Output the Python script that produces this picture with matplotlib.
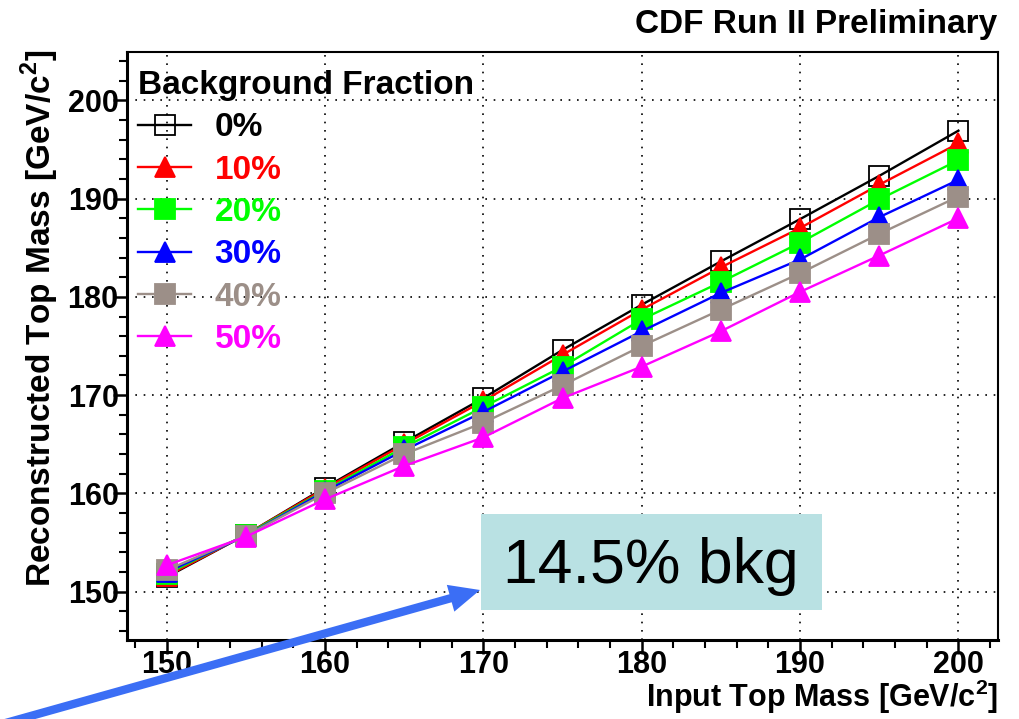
"""
Reconstructed vs input top mass for several background fractions
"""

import matplotlib
matplotlib.use("Agg")
import matplotlib.pyplot as plt
from matplotlib.patches import Rectangle
from matplotlib.ticker import MultipleLocator

plt.rcParams['font.family'] = ['Liberation Sans', 'DejaVu Sans']
plt.rcParams['mathtext.fontset'] = 'custom'
plt.rcParams['mathtext.bf'] = 'Liberation Sans:bold'
plt.rcParams['mathtext.rm'] = 'Liberation Sans:bold'

input_mass = [150, 155, 160, 165, 170, 175, 180, 185, 190, 195, 200]
labels = ['0%', '10%', '20%', '30%', '40%', '50%']
reco_0 = [151.5, 155.8, 160.6, 165.2, 169.7, 174.6, 179.2, 183.6, 187.9, 192.3, 196.9]
reco_10 = [151.6, 155.8, 160.5, 165.0, 169.4, 174.1, 178.7, 183.0, 187.0, 191.4, 195.6]
reco_20 = [151.8, 155.8, 160.3, 164.7, 168.8, 172.9, 177.7, 181.5, 185.5, 189.9, 193.9]
reco_30 = [152.0, 155.7, 160.2, 164.4, 168.3, 172.4, 176.5, 180.4, 183.8, 188.1, 191.9]
reco_40 = [152.2, 155.7, 160.0, 164.0, 167.2, 171.0, 175.0, 178.7, 182.4, 186.4, 190.2]
reco_50 = [152.7, 155.6, 159.4, 162.8, 165.7, 169.7, 172.9, 176.5, 180.5, 184.2, 188.0]
series = [reco_0, reco_10, reco_20, reco_30, reco_40, reco_50]

colors = ['black', '#ff0000', '#00ff00', '#0000ff', '#9c8f88', '#ff00ff']
markers = ['s', '^', 's', '^', 's', '^']

W, H = 1019, 719
fig = plt.figure(figsize=(W / 100, H / 100), dpi=100)
ax = fig.add_axes([127 / W, 1 - 640 / H, (998 - 127) / W, (640 - 52) / H])

for i in range(len(series)):
    face = 'none' if i == 0 else colors[i]
    ax.plot(input_mass, series[i], color=colors[i], lw=1.7, marker=markers[i],
            ms=14, mfc=face, mec=colors[i], mew=1.3, label=labels[i], zorder=3 + i)

ax.set_xlim(147.5, 202.5)
ax.set_ylim(145.1, 204.9)
ax.xaxis.set_major_locator(MultipleLocator(10))
ax.xaxis.set_minor_locator(MultipleLocator(2))
ax.yaxis.set_major_locator(MultipleLocator(10))
ax.yaxis.set_minor_locator(MultipleLocator(2))
ax.grid(True, which='major', color='black', linestyle=(0, (1, 4)), lw=1.2)
for s in ax.spines.values():
    s.set_linewidth(1.5)
ax.spines['left'].set_linewidth(2.2)
ax.spines['bottom'].set_linewidth(2.2)
ax.tick_params(which='major', length=10, width=1.8, labelsize=22, direction='out')
ax.tick_params(which='minor', length=6, width=1.5, direction='out')
ax.tick_params(axis='y', which='major', pad=-4)
ax.tick_params(axis='x', which='major', pad=-3)
for lab in ax.get_xticklabels() + ax.get_yticklabels():
    lab.set_fontweight('bold')

leg = ax.legend(loc='upper left', bbox_to_anchor=(138 / W, 1 - 70 / H),
                bbox_transform=fig.transFigure, frameon=False,
                title='Background Fraction', alignment='left',
                prop={'size': 24, 'weight': 'bold'}, labelcolor='linecolor',
                handlelength=1.6, handletextpad=0.7, labelspacing=0.34,
                borderpad=0, borderaxespad=0)
leg.get_title().set_fontsize(24)
leg.get_title().set_fontweight('bold')
leg.set_zorder(20)

fig.text(997 / W, 1 - 25 / H, 'CDF Run II Preliminary', ha='right', va='center',
         fontsize=24, fontweight='bold')
fig.text(998 / W, 1 - 697 / H, r'Input Top Mass [GeV/c$^{2}$]', ha='right',
         va='center', fontsize=22, fontweight='bold')
fig.text(40 / W, 1 - 50 / H, r'Reconstructed Top Mass [GeV/c$^{2}$]', ha='center',
         va='top', rotation=90, fontsize=24, fontweight='bold')

# annotation box
fig.patches.append(Rectangle((481 / W, 1 - 610 / H), (822 - 481) / W, 96 / H,
                             transform=fig.transFigure, facecolor='#b9e1e3',
                             edgecolor='none', zorder=30))
fig.text(651 / W, 1 - 566 / H, '14.5% bkg', ha='center', va='center',
         fontsize=45, zorder=31)

ax.annotate('', xy=(480, H - 590), xycoords='figure pixels',
            xytext=(-5, H - 726), textcoords='figure pixels',
            arrowprops=dict(arrowstyle='simple,head_length=1.1,head_width=1.0,tail_width=0.3',
                            mutation_scale=20, color='#3b6ef5', lw=0,
                            shrinkA=0, shrinkB=0),
            annotation_clip=False, zorder=40)

fig.savefig('out.png', dpi=100)
